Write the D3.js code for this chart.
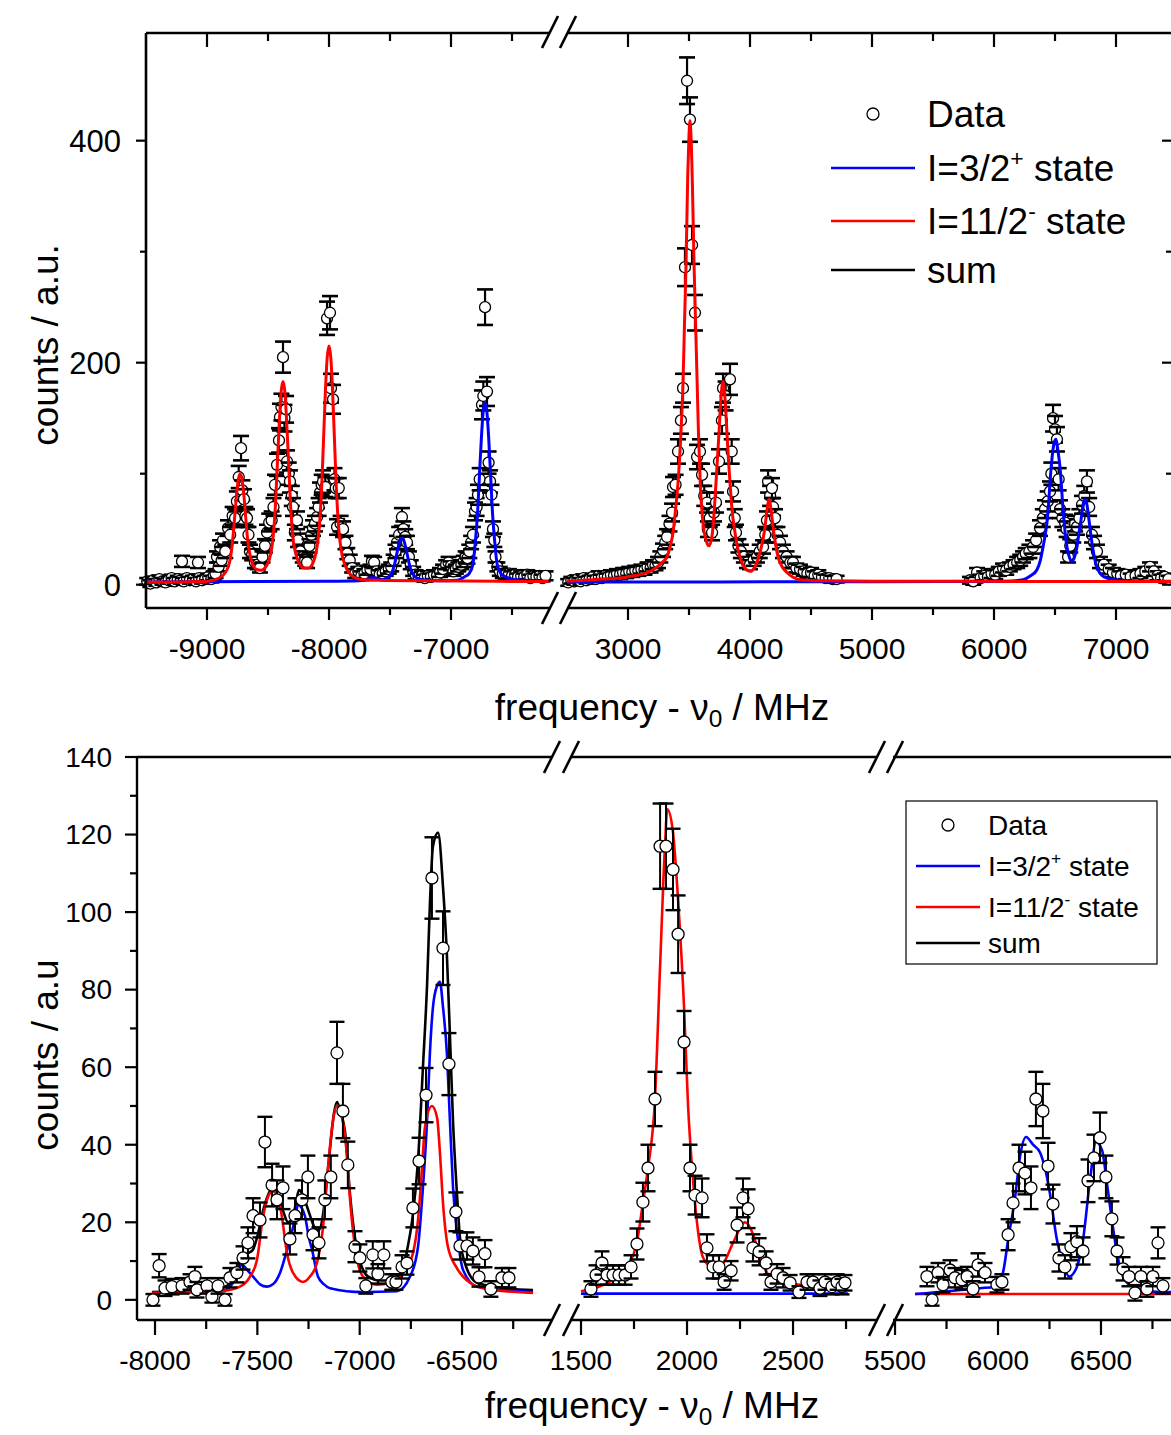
<!DOCTYPE html>
<html>
<head>
<meta charset="utf-8">
<script src="https://cdn.jsdelivr.net/npm/d3@7"></script>
<style>
  body { margin: 0; background: #fff; }
  svg { display: block; font-family: "Liberation Sans", Arial, Helvetica, sans-serif; }
</style>
</head>
<body>
<svg id="chart" width="1171" height="1435"></svg>
<script>
// ---------- data: top panel (frequency, counts, error) ----------
const topData1 = [
  [-9490,3,3],[-9465,1,3],[-9440,4,3],[-9415,2,3],[-9390,5,3],[-9365,3,3],[-9340,2,3],[-9315,4,3],
  [-9290,6,3],[-9265,3,3],[-9240,5,3],[-9215,4,3],[-9205,21,5],[-9190,3,3],[-9165,6,3],[-9140,4,3],
  [-9115,5,3],[-9090,3,3],[-9074,20,5],[-9065,6,3],[-9040,4,3],[-9015,5,3],[-8990,7,3],[-8965,5,3],
  [-8945,8,4],[-8930,10,4],[-8918,25,5],[-8905,16,4],[-8893,34,6],[-8880,22,5],[-8869,40,6],[-8850,30,6],
  [-8828,51,7],[-8810,45,7],[-8790,62,8],[-8770,60,8],[-8755,75,9],[-8740,97,10],[-8721,123,11],[-8710,85,9],
  [-8697,77,9],[-8685,62,8],[-8672,60,8],[-8660,45,7],[-8648,30,6],[-8630,27,5],[-8607,20,5],[-8585,18,4],
  [-8566,15,4],[-8545,25,5],[-8525,35,6],[-8508,47,7],[-8490,56,8],[-8470,58,8],[-8455,70,8],[-8443,90,9],
  [-8426,108,10],[-8410,130,11],[-8402,151,12],[-8390,160,12],[-8377,205,14],[-8365,150,12],[-8352,158,12],
  [-8344,111,10],[-8330,100,10],[-8320,93,10],[-8305,80,9],[-8295,70,8],[-8280,47,7],[-8262,58,8],
  [-8254,40,6],[-8235,30,6],[-8215,25,5],[-8195,22,5],[-8180,20,5],[-8160,35,6],[-8145,45,7],[-8131,51,7],
  [-8115,55,7],[-8098,61,8],[-8085,70,8],[-8074,83,9],[-8060,90,9],[-8049,93,10],[-8030,88,9],
  [-8016,240,15],[-7992,245,15],[-7984,177,13],[-7967,167,13],[-7955,95,10],[-7945,87,9],[-7934,52,7],
  [-7920,87,9],[-7905,55,7],[-7885,50,7],[-7865,38,6],[-7850,28,5],[-7830,22,5],[-7810,15,4],[-7785,10,4],
  [-7760,12,4],[-7735,8,4],[-7710,10,4],[-7685,13,4],[-7660,14,4],[-7648,21,5],[-7630,20,5],[-7610,12,4],
  [-7585,9,4],[-7560,10,4],[-7535,12,4],[-7510,14,4],[-7490,16,4],[-7470,22,5],[-7455,30,6],[-7443,38,6],
  [-7425,45,7],[-7402,61,8],[-7390,50,7],[-7375,43,7],[-7361,38,6],[-7345,25,5],[-7330,18,4],[-7310,12,4],
  [-7290,9,4],[-7265,7,3],[-7240,8,4],[-7215,6,3],[-7190,8,4],[-7165,7,3],[-7140,9,4],[-7115,8,4],
  [-7090,11,4],[-7065,14,4],[-7040,18,4],[-7020,20,5],[-7000,17,4],[-6980,12,4],[-6960,14,4],[-6940,16,4],
  [-6915,18,4],[-6895,21,5],[-6880,25,5],[-6865,24,5],[-6850,30,6],[-6835,38,6],[-6820,45,7],[-6803,66,8],
  [-6790,70,8],[-6779,81,9],[-6765,95,10],[-6746,162,13],[-6735,170,13],[-6721,250,16],[-6705,174,13],
  [-6692,110,10],[-6680,93,10],[-6668,81,9],[-6656,50,7],[-6645,40,6],[-6635,25,5],[-6620,16,4],
  [-6600,12,4],[-6575,10,4],[-6550,9,4],[-6525,10,4],[-6500,8,4],[-6475,9,4],[-6450,7,3],[-6425,8,4],
  [-6400,7,3],[-6375,9,4],[-6350,6,3],[-6325,8,4],[-6300,7,3],[-6275,8,4],[-6250,6,3],[-6225,8,4]
];
const topData2 = [
  [2510,2,3],[2535,4,3],[2560,3,3],[2585,5,3],[2610,3,3],[2635,6,3],[2660,4,3],[2685,5,3],[2710,7,3],
  [2735,5,3],[2760,8,4],[2785,6,3],[2810,8,4],[2835,7,3],[2860,9,4],[2885,8,4],[2910,10,4],[2935,9,4],
  [2960,11,4],[2985,10,4],[3010,12,4],[3035,11,4],[3060,13,4],[3085,12,4],[3110,14,4],[3135,13,4],
  [3160,16,4],[3185,15,4],[3205,18,4],[3225,17,4],[3246,20,5],[3265,25,5],[3287,31,6],[3305,38,6],
  [3320,43,7],[3340,55,7],[3361,65,8],[3369,88,9],[3390,90,9],[3410,120,11],[3434,148,12],[3451,177,13],
  [3467,286,17],[3484,454,21],[3508,419,20],[3525,306,17],[3549,245,16],[3566,115,11],[3590,120,11],
  [3607,99,10],[3625,80,9],[3648,74,9],[3655,50,7],[3670,60,8],[3689,47,7],[3705,65,8],[3721,74,9],
  [3746,111,11],[3770,148,12],[3779,177,13],[3800,170,13],[3836,185,14],[3850,120,11],[3861,84,9],
  [3875,60,8],[3885,47,7],[3905,35,6],[3925,30,6],[3950,25,5],[3975,20,5],[4000,18,4],[4030,22,5],
  [4057,25,5],[4080,30,6],[4107,34,6],[4125,45,7],[4139,58,8],[4148,93,10],[4165,80,9],[4180,87,9],
  [4189,70,8],[4205,60,8],[4225,45,7],[4246,38,6],[4270,30,6],[4300,25,5],[4330,20,5],[4352,20,5],
  [4380,15,4],[4410,14,4],[4440,12,4],[4470,10,4],[4500,11,4],[4530,8,4],[4560,9,4],[4590,7,3],
  [4620,6,3],[4650,6,3],[4680,5,3],[4710,5,3],
  [5803,4,3],[5830,3,3],[5861,11,4],[5890,6,3],[5920,8,4],[5950,7,3],[5980,10,4],[6010,9,4],[6040,12,4],
  [6074,15,4],[6100,13,4],[6130,16,4],[6160,18,4],[6190,20,5],[6215,22,5],[6238,25,5],[6260,28,5],
  [6290,30,6],[6320,34,6],[6345,40,6],[6377,51,7],[6400,60,8],[6418,68,8],[6440,75,9],[6459,84,9],
  [6470,100,10],[6484,150,12],[6500,140,12],[6516,131,11],[6530,95,10],[6541,68,8],[6560,60,8],
  [6582,56,7],[6595,50,7],[6607,25,5],[6625,35,6],[6650,45,7],[6665,55,7],[6680,52,7],[6700,60,8],
  [6721,72,8],[6740,80,9],[6762,93,10],[6780,70,8],[6803,45,7],[6820,38,6],[6844,30,6],[6869,20,5],
  [6900,18,4],[6940,14,4],[6975,11,4],[7010,10,4],[7040,8,4],[7080,9,4],[7120,7,3],[7160,8,4],
  [7200,10,4],[7240,12,4],[7279,16,4],[7310,12,4],[7340,8,4],[7370,6,3],[7400,7,3],[7430,5,3]
];

// fitted curves, top panel (frequency, counts)
const topRed1 = [
  [-9500,2.2],[-9200,2.5],[-9000,3],[-8900,6],[-8858,9.8],[-8828,15.6],[-8808,24],[-8788,42],[-8773,61],
  [-8758,81],[-8743,95],[-8728,100],[-8713,95],[-8698,81],[-8683,61],[-8668,42],[-8648,27],[-8628,19],
  [-8598,14],[-8558,13],[-8507,18],[-8477,28],[-8457,44],[-8437,76],[-8422,112],[-8407,147],[-8392,174],
  [-8377,183],[-8362,174],[-8347,147],[-8332,112],[-8317,76],[-8297,44],[-8277,30],[-8247,20],[-8207,15],
  [-8170,15],[-8130,20],[-8100,33],[-8080,51],[-8060,88],[-8045,130],[-8030,173],[-8015,204],[-8000,215],
  [-7985,204],[-7970,173],[-7955,130],[-7940,88],[-7920,50],[-7900,31],[-7870,18],[-7830,10],[-7800,7],
  [-7750,5],[-7600,4],[-7200,3.5],[-6600,3],[-6200,2.8]
];
const topBlue1 = [
  [-9500,2.5],[-8000,3],[-7750,3.5],[-7680,5],[-7650,6.5],[-7620,6],[-7572,4.4],[-7532,5.7],[-7502,8],
  [-7482,11.6],[-7462,18.6],[-7447,26.4],[-7432,34],[-7417,40],[-7402,42],[-7387,40],[-7372,34],
  [-7357,26.4],[-7342,18.6],[-7322,11.6],[-7302,8],[-7272,5.7],[-7232,4.4],[-7100,3.5],[-6950,4],
  [-6891,7],[-6851,10],[-6821,18],[-6801,38],[-6781,67],[-6766,100],[-6751,132],[-6736,156],[-6721,164],
  [-6706,156],[-6691,132],[-6676,100],[-6661,67],[-6641,38],[-6621,18],[-6591,10],[-6551,7],[-6500,5],
  [-6400,4],[-6200,3.2]
];
const topRed2 = [
  [2500,3],[2713,4.5],[2992,7],[3180,12],[3238,16],[3290,21],[3320,25],[3345,34],[3369,47],[3390,68],
  [3410,92],[3434,137],[3451,182],[3463,235],[3475,285],[3490,370],[3500,405],[3508,418],[3516,405],
  [3528,360],[3541,290],[3553,240],[3566,185],[3578,135],[3592,92],[3615,55],[3640,40],[3664,35],
  [3690,45],[3713,77],[3730,108],[3746,137],[3762,168],[3779,183],[3795,168],[3811,137],[3824,112],
  [3836,92],[3855,65],[3877,47],[3905,30],[3934,20],[3965,14],[4000,12],[4040,16],[4082,29],[4105,40],
  [4123,52],[4140,68],[4156,77],[4172,68],[4189,52],[4210,36],[4230,25],[4265,16],[4303,11],[4350,7],
  [4410,4.5],[4600,3.5],[5000,3.2],[6000,3],[7450,2.8]
];
const topBlue2 = [
  [2500,2.5],[5000,2.6],[6100,3],[6238,4.5],[6300,8],[6352,13.5],[6380,22],[6402,34],[6420,45],
  [6434,56],[6447,72],[6459,92],[6472,110],[6484,122],[6496,129],[6508,131],[6525,120],[6541,106],
  [6566,68],[6585,45],[6598,34],[6620,24],[6639,21],[6660,25],[6680,34],[6697,47],[6713,58],[6730,72],
  [6746,77],[6762,72],[6779,58],[6795,44],[6811,32],[6830,21],[6852,13.5],[6890,8],[6926,6],[7000,4.5],
  [7115,3.6],[7450,3]
];

// ---------- data: bottom panel ----------
const botData1 = [
  [-8010,0,1.5],[-7980,8.8,3],[-7951,3,2],[-7917,3.4,2],[-7868,3.6,2],[-7829,4.6,2],[-7805,6,2.5],
  [-7795,2.6,2],[-7746,3.6,2],[-7722,0.8,1.5],[-7692,3.6,2],[-7658,0,1.5],[-7634,5.7,2.5],[-7600,7,2.5],
  [-7570,10.8,3],[-7546,14.7,4],[-7521,21.7,4.5],[-7487,20.6,4.5],[-7463,40.7,6.5],[-7428,29.6,5.5],
  [-7404,25.8,5],[-7375,28.9,5.5],[-7341,15.7,4],[-7316,21.7,4.5],[-7282,25.8,5],[-7253,31.7,5.5],
  [-7228,16.8,4],[-7199,14.7,4],[-7170,25.8,5],[-7141,31.7,5.5],[-7111,63.7,8],[-7082,48.7,7],
  [-7058,34.8,6],[-7023,13.7,4],[-6999,10.8,3.5],[-6970,3.6,2],[-6936,11.6,3.5],[-6911,6.7,2.5],
  [-6882,11.6,3.5],[-6843,4.6,2],[-6823,4.6,2],[-6793,8.5,3],[-6769,9.5,3],[-6740,23.7,5],[-6710,35.8,6],
  [-6676,52.8,7],[-6647,108.8,10.5],[-6593,90.7,9.5],[-6564,60.8,8],[-6530,22.7,5],[-6510,13.9,3.5],
  [-6476,13.9,3.5],[-6447,12.6,3.5],[-6417,5.9,2.5],[-6388,11.9,3.5],[-6359,2.8,2],[-6305,5.7,2.5],
  [-6271,5.7,2.5]
];
const botData2 = [
  [1547,2.8,2],[1571,6.4,2.5],[1599,9.5,3],[1623,6.4,2.5],[1651,6.4,2.5],[1679,6.4,2.5],[1708,6.4,2.5],
  [1736,8.5,3],[1764,14.4,4],[1792,25.2,5],[1816,34,6],[1849,51.8,7],[1873,117,11],[1901,117,11],
  [1934,111,10.5],[1958,94.3,10],[1986,66.5,8],[2014,34,6],[2038,27,5],[2071,26.3,5],[2094,13.4,3.5],
  [2123,8.5,3],[2151,8.5,3],[2175,4.6,2],[2208,7.5,2.5],[2236,19.3,4.5],[2264,26.3,5],[2288,23.5,5],
  [2311,13.4,3.5],[2340,12.4,3.5],[2373,9.5,3],[2396,4.6,2],[2425,6.7,2.5],[2453,5.7,2.5],[2486,4.4,2],
  [2528,2,1.5],[2566,4.6,2],[2594,4.6,2],[2627,3,2],[2651,4.6,2],[2684,3.4,2],[2708,4.6,2],[2731,3.4,2],
  [2745,4.4,2]
];
const botData3 = [
  [5655,6,2.5],[5680,0,1.5],[5709,7,2.5],[5733,3.9,2],[5767,7.7,2.5],[5791,5.7,2.5],[5825,5.2,2.5],
  [5850,6,2.5],[5879,2.8,2],[5903,9,3],[5937,7,2.5],[5995,3.9,2],[6019,4.6,2],[6049,16.8,4],[6073,25,5],
  [6102,34,6],[6131,32.7,5.5],[6160,28.9,5.5],[6184,51.8,7],[6218,48.7,7],[6243,34.5,6],[6267,24.7,5],
  [6296,10.8,3.5],[6325,8.5,3],[6354,13.7,3.5],[6383,15,4],[6413,12.6,3.5],[6437,30.7,5.5],
  [6466,36.6,6],[6495,41.8,6.5],[6524,31.7,5.5],[6553,20.9,4.5],[6578,12.6,3.5],[6607,8,3],[6636,6,2.5],
  [6665,1.8,2],[6694,6,2.5],[6723,2.8,2],[6752,6,2.5],[6777,14.7,4],[6801,3.6,2]
];

const botRed1 = [
  [-8015,1.8],[-7682,2.2],[-7585,3.4],[-7536,6],[-7502,10.3],[-7472,21.4],[-7448,26.5],[-7425,28],
  [-7399,26.5],[-7380,21.4],[-7355,12],[-7326,7],[-7277,4.6],[-7243,6],[-7209,9.5],[-7179,18.8],
  [-7155,34],[-7131,46],[-7111,50],[-7082,46],[-7062,37],[-7047,25.8],[-7023,13.7],[-6984,6],[-6915,3.9],
  [-6852,4.4],[-6788,7],[-6740,12],[-6715,20.6],[-6696,33.5],[-6681,44.6],[-6647,50],[-6622,47],
  [-6608,38],[-6593,25],[-6569,13.7],[-6525,8.2],[-6461,4.4],[-6363,2.6],[-6153,1.8]
];
const botBlue1 = [
  [-8015,1.8],[-7668,2.3],[-7624,4],[-7599,7],[-7575,9],[-7546,7.5],[-7521,6],[-7487,4],[-7453,3.4],
  [-7424,4],[-7389,7],[-7365,11],[-7340,15.5],[-7316,21],[-7301,24.5],[-7287,24],[-7267,21.5],[-7248,16],
  [-7233,13],[-7204,6],[-7174,4],[-7145,3],[-6984,2],[-6818,2.2],[-6754,6],[-6715,13.7],[-6691,29],
  [-6671,46],[-6657,63.6],[-6642,75.5],[-6622,81],[-6608,82],[-6593,75.5],[-6574,63.6],[-6559,46],
  [-6544,29],[-6520,15.5],[-6495,7.7],[-6427,3.4],[-6153,2]
];
const botSum1 = [
  [-8015,2],[-7682,3],[-7609,5.5],[-7575,11],[-7546,12],[-7521,13],[-7497,17],[-7472,23],[-7448,27],
  [-7424,29],[-7399,26.5],[-7375,23],[-7350,20],[-7331,20.8],[-7311,25],[-7297,28.3],[-7277,27],
  [-7257,24],[-7238,21],[-7218,18.5],[-7199,18],[-7179,22],[-7160,31],[-7145,39],[-7126,48],[-7111,51],
  [-7091,48],[-7072,43.5],[-7047,27],[-7023,16],[-6999,10],[-6959,6],[-6901,5],[-6852,5],[-6818,5.7],
  [-6788,8.5],[-6764,14],[-6740,22],[-6715,36],[-6691,60],[-6671,81],[-6657,102],[-6642,117],
  [-6617,120.5],[-6593,106.5],[-6574,89],[-6559,68],[-6544,46],[-6525,27.6],[-6510,16],[-6486,9.5],
  [-6427,4.4],[-6315,3.2],[-6153,2.5]
];
const botRed2 = [
  [1500,2.2],[1590,3.5],[1660,5.5],[1731,9.5],[1764,15],[1792,25],[1816,34],[1849,52],[1873,86],
  [1896,117],[1907,126.5],[1933,121],[1958,103],[1986,75.5],[2005,50],[2024,34],[2047,20],[2075,11],
  [2118,8.5],[2170,9.5],[2217,14.7],[2274,20],[2311,17],[2344,11],[2377,7],[2439,4.6],[2533,3.9],[2759,3.4]
];
const botBlue2 = [[1500,1.6],[2759,1.6]];
const botRed3 = [[5597,1.5],[6840,1.5]];
const botBlue3 = [
  [5597,1.5],[5913,3],[5985,3.4],[6024,7],[6049,15.5],[6083,26.5],[6107,37],[6136,42],[6170,40],
  [6204,38],[6228,34],[6252,27.5],[6286,15.5],[6316,9.5],[6345,6],[6383,8.5],[6413,15.5],[6447,31],
  [6476,40.7],[6505,38.6],[6529,30],[6553,20.6],[6578,12],[6607,6],[6655,3.4],[6801,2],[6840,2]
];

// ---------- ticks ----------
const topXMajor1 = [-9000, -8000, -7000];
const topXMinor1 = [-8500, -7500, -6500];
const topXMajor2 = [3000, 4000, 5000, 6000, 7000];
const topXMinor2 = [3500, 4500, 5500, 6500];
const topYMajor = [0, 200, 400];
const topYMinor = [100, 300];
const botXMajor1 = [-8000, -7500, -7000, -6500];
const botXMinor1 = [-7750, -7250, -6750, -6250];
const botXMajor2 = [1500, 2000, 2500];
const botXMinor2 = [1750, 2250, 2750];
const botXMajor3 = [5500, 6000, 6500];
const botXMinor3 = [5750, 6250, 6750];
const botYMajor = [0, 20, 40, 60, 80, 100, 120, 140];
const botYMinor = [10, 30, 50, 70, 90, 110, 130];

const legendLabels = ["Data", "I=3/2", "I=11/2", "sum"];
const legendSup = ["", "+", "-", ""];
const RED = "#ff0000", BLUE = "#0000ff", BLACK = "#000000";

// ---------- scales ----------
const xT1 = d3.scaleLinear().domain([-9500, -6200]).range([146, 548.6]);
const xT2 = d3.scaleLinear().domain([2500, 7450]).range([567, 1170.9]);
const yT = d3.scaleLinear().domain([-21, 497]).range([608, 33]);

const xB1 = d3.scaleLinear().domain([-8088, -6080]).range([137, 548]);
const xB2 = d3.scaleLinear().domain([1450, 2880]).range([570.4, 873.6]);
const xB3 = d3.scaleLinear().domain([5461, 6840]).range([887, 1171]);
const yB = d3.scaleLinear().domain([-5.2, 140]).range([1320, 757]);

const svg = d3.select("#chart");

// ---------- helpers ----------
function drawCurve(g, x, y, pts, color, w) {
  g.append("path")
    .datum(pts)
    .attr("d", d3.line().x((d) => x(d[0])).y((d) => y(d[1])).curve(d3.curveMonotoneX))
    .attr("fill", "none")
    .attr("stroke", color)
    .attr("stroke-width", w)
    .attr("stroke-linejoin", "round");
}

function drawPoints(g, x, y, pts, r, capW, barW) {
  let p = g.append("g").selectAll("g").data(pts).join("g");
  p.append("line")
    .attr("x1", (d) => x(d[0])).attr("x2", (d) => x(d[0]))
    .attr("y1", (d) => y(d[1] + d[2])).attr("y2", (d) => y(d[1] - d[2]))
    .attr("stroke", "#000").attr("stroke-width", barW);
  p.append("line")
    .attr("x1", (d) => x(d[0]) - capW).attr("x2", (d) => x(d[0]) + capW)
    .attr("y1", (d) => y(d[1] + d[2])).attr("y2", (d) => y(d[1] + d[2]))
    .attr("stroke", "#000").attr("stroke-width", barW + 0.4);
  p.append("line")
    .attr("x1", (d) => x(d[0]) - capW).attr("x2", (d) => x(d[0]) + capW)
    .attr("y1", (d) => y(d[1] - d[2])).attr("y2", (d) => y(d[1] - d[2]))
    .attr("stroke", "#000").attr("stroke-width", barW + 0.4);
  p.append("circle")
    .attr("cx", (d) => x(d[0])).attr("cy", (d) => y(d[1]))
    .attr("r", r)
    .attr("fill", "#fff").attr("stroke", "#000").attr("stroke-width", 1.3);
}

function hLine(g, x1, x2, y, w) {
  g.append("line").attr("x1", x1).attr("x2", x2).attr("y1", y).attr("y2", y)
    .attr("stroke", "#000").attr("stroke-width", w);
}

function slash(g, cx, cy) {
  g.append("line")
    .attr("x1", cx - 8).attr("y1", cy + 16).attr("x2", cx + 8).attr("y2", cy - 16)
    .attr("stroke", "#000").attr("stroke-width", 2.6);
}

function xTicks(g, x, y0, values, len) {
  g.selectAll(null).data(values).join("line")
    .attr("x1", (d) => x(d)).attr("x2", (d) => x(d))
    .attr("y1", y0).attr("y2", y0 + len)
    .attr("stroke", "#000").attr("stroke-width", 2.2);
}

function yTicks(g, y, x0, values, len) {
  g.selectAll(null).data(values).join("line")
    .attr("x1", x0).attr("x2", x0 + len)
    .attr("y1", (d) => y(d)).attr("y2", (d) => y(d))
    .attr("stroke", "#000").attr("stroke-width", 2.2);
}

function xLabels(g, x, yBase, values, size) {
  g.selectAll(null).data(values).join("text")
    .attr("x", (d) => x(d)).attr("y", yBase)
    .attr("text-anchor", "middle").attr("font-size", size)
    .text((d) => String(d));
}

function yLabels(g, y, xEnd, values, size) {
  g.selectAll(null).data(values).join("text")
    .attr("x", xEnd).attr("y", (d) => y(d)).attr("dy", "0.35em")
    .attr("text-anchor", "end").attr("font-size", size)
    .text((d) => String(d));
}

function freqTitle(g, cx, yBase, size) {
  let t = g.append("text").attr("x", cx).attr("y", yBase)
    .attr("text-anchor", "middle").attr("font-size", size);
  t.append("tspan").text("frequency - \u03bd");
  t.append("tspan").attr("dy", size * 0.2).attr("font-size", size * 0.66).text("0");
  t.append("tspan").attr("dy", -size * 0.2).text(" / MHz");
}

function legend(g, items, opt) {
  items.forEach((it, i) => {
    let cy = opt.ys[i];
    if (it.type === "point") {
      g.append("circle").attr("cx", opt.markX).attr("cy", cy).attr("r", opt.r)
        .attr("fill", "#fff").attr("stroke", "#000").attr("stroke-width", 1.3);
    } else {
      g.append("line").attr("x1", opt.lineX1).attr("x2", opt.lineX2)
        .attr("y1", cy).attr("y2", cy).attr("stroke", it.color).attr("stroke-width", opt.lw);
    }
    let t = g.append("text").attr("x", opt.textX).attr("y", cy).attr("dy", "0.36em")
      .attr("font-size", opt.size);
    t.append("tspan").text(legendLabels[i]);
    if (legendSup[i]) {
      t.append("tspan").attr("dy", -opt.size * 0.42).attr("font-size", opt.size * 0.62).text(legendSup[i]);
      t.append("tspan").attr("dy", opt.size * 0.42).text(" state");
    }
  });
}

// =============== TOP PANEL ===============
let gTop = svg.append("g");
let gTopData = gTop.append("g");
drawPoints(gTopData, xT1, yT, topData1, 5.5, 8, 2.2);
drawPoints(gTopData, xT2, yT, topData2, 5.5, 8, 2.2);

let gTopCurves = gTop.append("g");
drawCurve(gTopCurves, xT1, yT, topBlue1, BLUE, 3);
drawCurve(gTopCurves, xT1, yT, topRed1, RED, 3);
drawCurve(gTopCurves, xT2, yT, topBlue2, BLUE, 3);
drawCurve(gTopCurves, xT2, yT, topRed2, RED, 3);

// frame
let gTopAxes = gTop.append("g");
gTopAxes.append("line").attr("x1", 146).attr("x2", 146).attr("y1", 33).attr("y2", 608)
  .attr("stroke", "#000").attr("stroke-width", 2.6);
hLine(gTopAxes, 146, 550, 33, 2.6);
hLine(gTopAxes, 567, 1171, 33, 2.6);
hLine(gTopAxes, 146, 550, 608, 2.6);
hLine(gTopAxes, 567, 1171, 608, 2.6);
slash(gTopAxes, 550, 32); slash(gTopAxes, 568, 32);
slash(gTopAxes, 550, 608); slash(gTopAxes, 568, 608);

xTicks(gTopAxes, xT1, 608, topXMajor1, 12);
xTicks(gTopAxes, xT1, 608, topXMinor1, 7);
xTicks(gTopAxes, xT2, 608, topXMajor2, 12);
xTicks(gTopAxes, xT2, 608, topXMinor2, 7);
xTicks(gTopAxes, xT1, 33, topXMajor1, 14);
xTicks(gTopAxes, xT1, 33, topXMinor1, 8);
xTicks(gTopAxes, xT2, 33, topXMajor2, 14);
xTicks(gTopAxes, xT2, 33, topXMinor2, 8);
yTicks(gTopAxes, yT, 146, topYMajor, -10);
yTicks(gTopAxes, yT, 146, topYMinor, -6);
yTicks(gTopAxes, yT, 1171, topYMajor, -9);
yTicks(gTopAxes, yT, 1171, topYMinor, -5);

xLabels(gTopAxes, xT1, 659, topXMajor1, 30);
xLabels(gTopAxes, xT2, 659, topXMajor2, 30);
yLabels(gTopAxes, yT, 121, topYMajor, 31);

freqTitle(gTopAxes, 662, 720, 37);
gTopAxes.append("text").attr("transform", "translate(58,345) rotate(-90)")
  .attr("text-anchor", "middle").attr("font-size", 37).text("counts / a.u.");

legend(gTop.append("g"),
  [{ type: "point" }, { color: BLUE }, { color: RED }, { color: BLACK }],
  { ys: [114, 168, 221, 270], markX: 873, r: 6, lineX1: 831, lineX2: 915, textX: 927, size: 37, lw: 2.6 });

// =============== BOTTOM PANEL ===============
let gBot = svg.append("g");
let gBotCurves = gBot.append("g");
drawCurve(gBotCurves, xB1, yB, botSum1, BLACK, 2.6);
drawCurve(gBotCurves, xB1, yB, botBlue1, BLUE, 2.6);
drawCurve(gBotCurves, xB1, yB, botRed1, RED, 2.6);
drawCurve(gBotCurves, xB2, yB, botBlue2, BLUE, 2.6);
drawCurve(gBotCurves, xB2, yB, botRed2, RED, 2.6);
drawCurve(gBotCurves, xB3, yB, botRed3, RED, 2.6);
drawCurve(gBotCurves, xB3, yB, botBlue3, BLUE, 2.6);

let gBotData = gBot.append("g");
drawPoints(gBotData, xB1, yB, botData1, 6, 7.5, 2);
drawPoints(gBotData, xB2, yB, botData2, 6, 7.5, 2);
drawPoints(gBotData, xB3, yB, botData3, 6, 7.5, 2);

let gBotAxes = gBot.append("g");
gBotAxes.append("line").attr("x1", 137).attr("x2", 137).attr("y1", 757).attr("y2", 1320)
  .attr("stroke", "#000").attr("stroke-width", 2.4);
[757, 1320].forEach((yy) => {
  hLine(gBotAxes, 137, 552, yy, 2.4);
  hLine(gBotAxes, 571, 877, yy, 2.4);
  hLine(gBotAxes, 893, 1171, yy, 2.4);
  slash(gBotAxes, 552, yy); slash(gBotAxes, 571, yy);
  slash(gBotAxes, 877, yy); slash(gBotAxes, 895, yy);
});

xTicks(gBotAxes, xB1, 1320, botXMajor1, 15);
xTicks(gBotAxes, xB1, 1320, botXMinor1, 9);
xTicks(gBotAxes, xB2, 1320, botXMajor2, 15);
xTicks(gBotAxes, xB2, 1320, botXMinor2, 9);
xTicks(gBotAxes, xB3, 1320, botXMajor3, 15);
xTicks(gBotAxes, xB3, 1320, botXMinor3, 9);
yTicks(gBotAxes, yB, 137, botYMajor, -12);
yTicks(gBotAxes, yB, 137, botYMinor, -7);

xLabels(gBotAxes, xB1, 1370, botXMajor1, 28);
xLabels(gBotAxes, xB2, 1370, botXMajor2, 28);
xLabels(gBotAxes, xB3, 1370, botXMajor3, 28);
yLabels(gBotAxes, yB, 112, botYMajor, 28);

freqTitle(gBotAxes, 652, 1418, 37);
gBotAxes.append("text").attr("transform", "translate(58,1055) rotate(-90)")
  .attr("text-anchor", "middle").attr("font-size", 37).text("counts / a.u");

let gLeg = gBot.append("g");
gLeg.append("rect").attr("x", 906).attr("y", 801).attr("width", 251).attr("height", 163)
  .attr("fill", "#fff").attr("stroke", "#000").attr("stroke-width", 1.2);
legend(gLeg,
  [{ type: "point" }, { color: BLUE }, { color: RED }, { color: BLACK }],
  { ys: [825, 866, 907, 943], markX: 948, r: 6, lineX1: 916, lineX2: 980, textX: 988, size: 28, lw: 2.4 });
</script>
</body>
</html>
